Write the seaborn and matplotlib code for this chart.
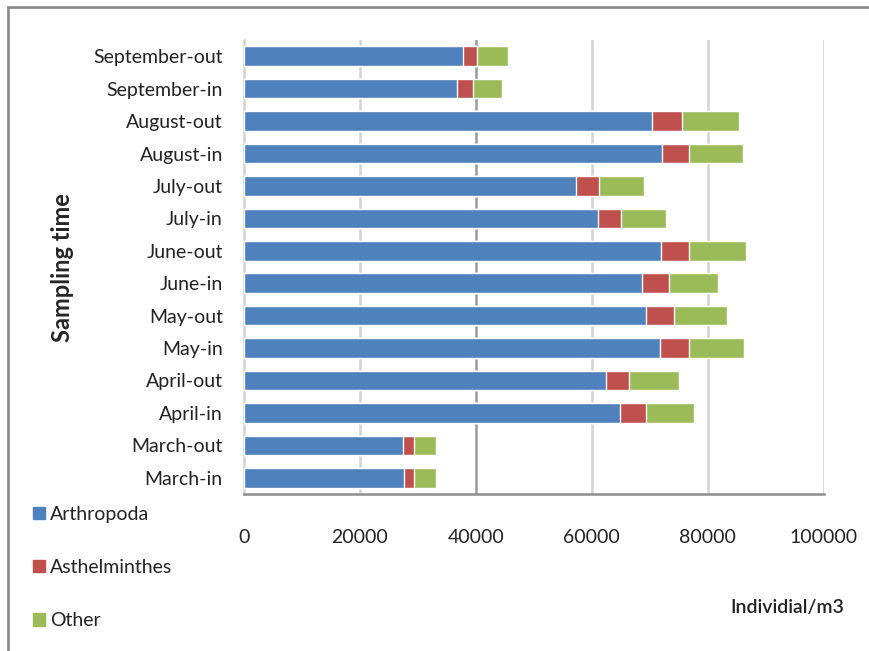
import numpy as np
import pandas as pd
import matplotlib
matplotlib.use("Agg")
import matplotlib.pyplot as plt
import seaborn as sns
from matplotlib.patches import Rectangle, Patch

# data (top to bottom)
sampling = ["September-out", "September-in", "August-out", "August-in",
            "July-out", "July-in", "June-out", "June-in",
            "May-out", "May-in", "April-out", "April-in",
            "March-out", "March-in"]
arthropoda = [37800, 36800, 70400, 72200, 57300, 61000, 72000, 68700,
              69300, 71700, 62400, 64800, 27500, 27700]
asthelminthes = [2500, 2700, 5200, 4500, 3900, 4100, 4700, 4600,
                 4900, 5000, 4100, 4500, 1900, 1600]
other = [5200, 5100, 9800, 9300, 7900, 7700, 9900, 8400,
         9200, 9500, 8600, 8400, 3700, 3900]
xticks = [0, 20000, 40000, 60000, 80000, 100000]

df = pd.DataFrame({"Sampling": sampling, "Arthropoda": arthropoda,
                   "Asthelminthes": asthelminthes, "Other": other})
df["lvl1"] = df["Arthropoda"]
df["lvl2"] = df["Arthropoda"] + df["Asthelminthes"]
df["lvl3"] = df["lvl2"] + df["Other"]

sns.set_style("white")
plt.rcParams["font.family"] = ["Lato", "DejaVu Sans"]

blue, red, green = "#4F81BD", "#C0504D", "#9BBB59"
fs = 14

fig = plt.figure(figsize=(8.69, 6.51), dpi=100)
ax = fig.add_axes([243.7 / 869, 1 - 494 / 651, 580 / 869, 454 / 651])

# stacked bars: draw cumulative totals back to front
for col, c in [("lvl3", green), ("lvl2", red), ("lvl1", blue)]:
    sns.barplot(data=df, x=col, y="Sampling", order=sampling, color=c,
                orient="h", width=0.6, saturation=1, ax=ax, zorder=3)

ax.set_xlim(0, 100000)
ax.set_ylim(len(sampling) - 0.5, -0.5)
ax.set_xticks(xticks)
ax.set_xticklabels([str(t) for t in xticks])
ax.set_xlabel("")
ax.set_ylabel("")

# gridlines
for t in xticks[1:]:
    gc = "#9A9A9A" if t == 40000 else "#D4D4D4"
    ax.axvline(t, color=gc, lw=1.8, zorder=0)

for s in ["top", "right"]:
    ax.spines[s].set_visible(False)
ax.spines["left"].set_color("#D4D4D4")
ax.spines["left"].set_linewidth(1.8)
ax.spines["bottom"].set_color("#8C8C8C")
ax.spines["bottom"].set_linewidth(1.8)
ax.spines["left"].set_zorder(1)

ax.tick_params(axis="x", length=6, width=1.8, color="#D4D4D4", pad=19,
               labelsize=fs, labelcolor="#222222")
ax.tick_params(axis="y", length=0, pad=15, labelsize=fs, labelcolor="#222222")

fig.text(62 / 869, 1 - 268 / 651, "Sampling time", rotation=90,
         ha="center", va="center", fontsize=17, fontweight="bold")
fig.text(787 / 869, 1 - 608 / 651, "Individial/m3", ha="center", va="center",
         fontsize=fs, fontweight="semibold", color="#222222")

handles = [Patch(color=blue, label="Arthropoda"),
           Patch(color=red, label="Asthelminthes"),
           Patch(color=green, label="Other")]
fig.legend(handles=handles, loc="upper left",
           bbox_to_anchor=(25 / 869, 1 - 498 / 651), frameon=False,
           fontsize=fs, handlelength=0.62, handleheight=0.62,
           handletextpad=0.28, labelspacing=1.86, borderaxespad=0,
           labelcolor="#222222")

# outer frame
fig.patches.append(Rectangle((8 / 869, -0.1), 1.1, (1 - 7 / 651) + 0.1,
                             transform=fig.transFigure, fill=False,
                             edgecolor="#8C8C8C", lw=2))

fig.savefig("out.png", dpi=100)
